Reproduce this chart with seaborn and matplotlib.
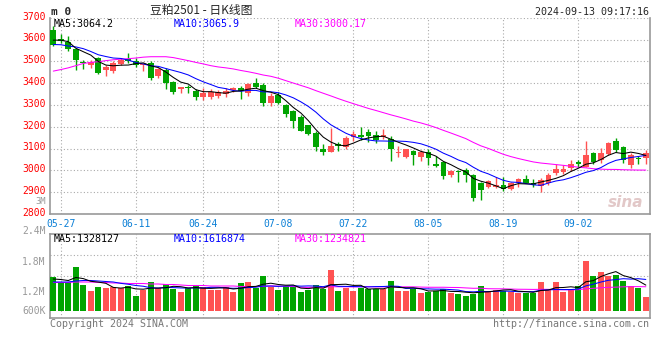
import numpy as np
import pandas as pd
import matplotlib
matplotlib.use("Agg")
import matplotlib.pyplot as plt
import matplotlib.transforms as mtransforms
import seaborn as sns

# trading days shown: 2024-05-24 .. 2024-09-13 (06-10 is the Dragon Boat holiday)
days = pd.bdate_range("2024-05-24", "2024-09-13")
days = days[days != pd.Timestamp("2024-06-10")]

opens = [3644, 3602, 3588, 3555, 3498, 3482, 3517, 3460, 3455, 3489,
         3512, 3502, 3482, 3490, 3432, 3462, 3404, 3374, 3382, 3364,
         3335, 3338, 3342, 3350, 3368, 3377, 3355, 3399, 3392, 3308,
         3346, 3300, 3270, 3245, 3206, 3172, 3096, 3086, 3120, 3106,
         3152, 3163, 3177, 3162, 3151, 3144, 3078, 3063, 3090, 3063,
         3085, 3030, 3036, 2978, 2999, 3002, 2978, 2940, 2922, 2925,
         2932, 2913, 2940, 2960, 2941, 2928, 2940, 2986, 2992, 3010,
         3040, 3017, 3081, 3047, 3076, 3136, 3109, 3024, 3058, 3055]
highs = [3662, 3625, 3617, 3560, 3507, 3504, 3520, 3484, 3502, 3515,
         3537, 3517, 3492, 3502, 3470, 3470, 3408, 3384, 3392, 3372,
         3376, 3372, 3368, 3376, 3384, 3387, 3402, 3422, 3399, 3353,
         3360, 3305, 3275, 3254, 3210, 3180, 3120, 3192, 3128, 3158,
         3182, 3200, 3188, 3182, 3188, 3158, 3112, 3100, 3095, 3093,
         3096, 3066, 3040, 3000, 3003, 3009, 2985, 2945, 2955, 2968,
         2968, 2948, 2963, 2978, 2960, 2963, 2986, 3029, 3024, 3047,
         3047, 3136, 3086, 3104, 3132, 3150, 3112, 3078, 3066, 3093]
lows = [3572, 3585, 3548, 3462, 3464, 3470, 3440, 3432, 3447, 3484,
        3492, 3474, 3457, 3412, 3424, 3372, 3352, 3354, 3355, 3324,
        3323, 3326, 3330, 3338, 3361, 3328, 3341, 3378, 3294, 3295,
        3306, 3243, 3196, 3178, 3162, 3090, 3070, 3082, 3090, 3100,
        3136, 3139, 3132, 3124, 3142, 3044, 3063, 3055, 3025, 3043,
        3025, 3017, 2958, 2970, 2948, 2948, 2861, 2864, 2917, 2918,
        2906, 2910, 2922, 2940, 2922, 2902, 2932, 2978, 2983, 2998,
        3017, 3015, 3029, 3032, 3070, 3085, 3032, 3009, 3029, 3029]
closes = [3575, 3592, 3556, 3507, 3490, 3497, 3448, 3472, 3490, 3504,
          3500, 3482, 3488, 3422, 3464, 3399, 3357, 3380, 3378, 3335,
          3353, 3358, 3358, 3364, 3377, 3366, 3396, 3380, 3308, 3341,
          3310, 3258, 3224, 3182, 3166, 3106, 3082, 3112, 3112, 3150,
          3167, 3155, 3158, 3140, 3162, 3098, 3086, 3096, 3070, 3085,
          3055, 3020, 2975, 2995, 2994, 2979, 2872, 2910, 2951, 2932,
          2913, 2940, 2958, 2944, 2934, 2955, 2978, 3004, 3006, 3029,
          3030, 3070, 3036, 3081, 3127, 3094, 3045, 3070, 3051, 3081]
# volume in millions of lots
volumes_m = [1.48, 1.36, 1.38, 1.69, 1.33, 1.21, 1.28, 1.26, 1.28, 1.26,
             1.30, 1.11, 1.23, 1.39, 1.26, 1.34, 1.25, 1.19, 1.26, 1.30,
             1.28, 1.23, 1.23, 1.28, 1.18, 1.36, 1.38, 1.26, 1.50, 1.28,
             1.23, 1.31, 1.28, 1.19, 1.23, 1.33, 1.25, 1.63, 1.21, 1.26,
             1.21, 1.26, 1.25, 1.25, 1.25, 1.41, 1.20, 1.21, 1.25, 1.16,
             1.18, 1.21, 1.25, 1.16, 1.15, 1.11, 1.15, 1.31, 1.20, 1.23,
             1.21, 1.18, 1.16, 1.16, 1.16, 1.39, 1.23, 1.39, 1.18, 1.23,
             1.31, 1.81, 1.51, 1.58, 1.51, 1.53, 1.41, 1.31, 1.26, 1.08]

# moving averages at the left edge need days before the window ->
ma5_head = [3597, 3597, 3590, 3560]
ma10_head = [3577, 3576, 3570, 3566, 3558, 3545, 3530, 3522, 3515]
ma30_head = [3455, 3462, 3470, 3480, 3490, 3495, 3498, 3503, 3507, 3510,
             3512, 3515, 3519, 3521, 3521, 3521, 3517, 3510, 3503, 3495,
             3488, 3480, 3474, 3470, 3465, 3458, 3452, 3445, 3437]
vol_ma5_head = [1.44, 1.43, 1.41, 1.47]
vol_ma10_head = [1.38, 1.38, 1.38, 1.40, 1.41, 1.41, 1.40, 1.39, 1.38]
vol_ma30_head = [1.37, 1.37, 1.37, 1.38, 1.38, 1.38, 1.37, 1.37, 1.36, 1.36,
                 1.35, 1.35, 1.35, 1.34, 1.34, 1.33, 1.33, 1.32, 1.31, 1.31,
                 1.31, 1.30, 1.30, 1.30, 1.30, 1.29, 1.29, 1.29, 1.29]

tick_labels = ["05-27", "06-11", "06-24", "07-08", "07-22", "08-05", "08-19", "09-02"]
price_ticks = [2800, 2900, 3000, 3100, 3200, 3300, 3400, 3500, 3600, 3700]

W, H = 660, 360
UP, DOWN = "#ff5252", "#00a400"
GRID = "#aaaaaa"
MONO = "DejaVu Sans Mono"


def with_head(values, n, head):
    ma = pd.Series(values, dtype=float).rolling(n).mean()
    ma.iloc[:len(head)] = head
    return ma


df = pd.DataFrame({"day": days, "open": opens, "high": highs, "low": lows,
                   "close": closes, "vol": np.array(volumes_m) * 1e6})
df["idx"] = np.arange(len(df))
df["ma5"] = with_head(closes, 5, ma5_head)
df["ma10"] = with_head(closes, 10, ma10_head)
df["ma30"] = with_head(closes, 30, ma30_head)
df["vma5"] = with_head(volumes_m, 5, vol_ma5_head) * 1e6
df["vma10"] = with_head(volumes_m, 10, vol_ma10_head) * 1e6
df["vma30"] = with_head(volumes_m, 30, vol_ma30_head) * 1e6
colors = np.where(df["close"] >= df["open"], UP, DOWN)

sns.set_theme(style="white")
plt.rcParams["font.family"] = [MONO, "DejaVu Sans"]

fig = plt.figure(figsize=(W / 100, H / 100), dpi=100)
fig.patch.set_facecolor("white")


def px(x, y):
    return x / W, 1 - y / H


ax = fig.add_axes([50 / W, 1 - 213.9 / H, 599.5 / W, (213.9 - 17.7) / H])
ax2 = fig.add_axes([50 / W, 1 - 318 / H, 599.5 / W, 84 / H], sharex=ax)

# ---- candles ----
body_lo = df[["open", "close"]].min(axis=1)
body_h = (df["close"] - df["open"]).abs().clip(lower=4)
ax.vlines(df["idx"], df["low"], df["high"], colors=colors, lw=1.0, zorder=3)
ax.bar(df["idx"], body_h, bottom=body_lo, width=0.75, color=colors, lw=0, zorder=4)

for col, c in [("ma30", "#ff00ff"), ("ma10", "#0000ff"), ("ma5", "black")]:
    sns.lineplot(data=df, x="idx", y=col, color=c, lw=0.75, ax=ax, zorder=5)

tick_pos = [list(df["day"].dt.strftime("%m-%d")).index(t) for t in tick_labels]
ax.set_xlim(-0.44, 79.49)
ax.set_ylim(2800, 3700)
ax.set_xticks(tick_pos)
ax.set_xticklabels(tick_labels)
ax.set_yticks(price_ticks)
ax.set_xlabel("")
ax.set_ylabel("")
ax.tick_params(axis="both", length=0, labelsize=7)
ax.tick_params(axis="y", colors="#ff0000", pad=3)
ax.tick_params(axis="x", colors="#0a7fd6", pad=3.5)
ax.grid(True, ls=(0, (1, 2)), color=GRID, lw=0.8)
for s in ["left", "bottom", "right"]:
    ax.spines[s].set_color("#999999")
    ax.spines[s].set_linewidth(1.2)
ax.spines["top"].set_visible(False)

# price labels sit a little above their grid lines
lift = mtransforms.ScaledTranslation(0, 2.2 / 100, fig.dpi_scale_trans)
for lab in ax.get_yticklabels():
    lab.set_transform(lab.get_transform() + lift)

trans = mtransforms.blended_transform_factory(ax.transAxes, ax.transData)
ax.text(-0.007, 2856, "3M", transform=trans, ha="right", va="center",
        fontsize=6.3, color="#999999")
ax.text(0.99, 0.06, "sina", transform=ax.transAxes, ha="right", va="center",
        fontsize=11, fontstyle="italic", fontweight="bold", color="#e2c8c8",
        family="DejaVu Sans")

# ---- volume ----
VOL_FLOOR = 800000
ax2.bar(df["idx"], df["vol"] - VOL_FLOOR, bottom=VOL_FLOOR, width=0.8,
        color=colors, lw=0, zorder=3)
for col, c in [("vma30", "#ff00ff"), ("vma10", "#0000ff"), ("vma5", "black")]:
    sns.lineplot(data=df, x="idx", y=col, color=c, lw=0.75, ax=ax2, zorder=5)
ax2.set_ylim(660000, 2340000)
ax2.set_yticks([1.2e6, 1.8e6])
ax2.set_yticklabels(["1.2M", "1.8M"])
ax2.set_xlabel("")
ax2.set_ylabel("")
ax2.tick_params(axis="both", length=0, labelsize=7)
ax2.tick_params(axis="y", colors="#999999", pad=3)
ax2.tick_params(axis="x", labelbottom=False)
ax2.grid(True, axis="x", ls=(0, (1, 2)), color=GRID, lw=0.8)
for yf in [0.5, 0.75]:
    ax2.plot([0, 1], [yf, yf], transform=ax2.transAxes, ls=(0, (1, 2)),
             color=GRID, lw=0.8, zorder=1)
for s in ax2.spines.values():
    s.set_color("#999999")
    s.set_linewidth(1.2)
trans2 = mtransforms.blended_transform_factory(ax2.transAxes, ax2.transData)
ax2.text(-0.007, 2.4e6, "2.4M", transform=trans2, ha="right", va="center",
         fontsize=7, color="#999999", clip_on=False)
ax2.text(-0.007, VOL_FLOOR, "600K", transform=trans2, ha="right", va="center",
         fontsize=7, color="#999999", clip_on=False)

# ---- header / legend texts ----
fig.text(*px(51, 12), "m 0", ha="left", va="center", fontsize=8, fontweight="bold")
fig.text(*px(201, 10.5), "豆粕2501 - 日K线图", ha="center", va="center", fontsize=8.5,
         family=["Noto Sans CJK SC", "DejaVu Sans"])
fig.text(*px(649, 12), "2024-09-13 09:17:16", ha="right", va="center", fontsize=7.2)

fig.text(*px(54, 24), "MA5:3064.2", ha="left", va="center", fontsize=7.2, color="black")
fig.text(*px(174, 24), "MA10:3065.9", ha="left", va="center", fontsize=7.2, color="#0000ff")
fig.text(*px(295, 24), "MA30:3000.17", ha="left", va="center", fontsize=7.2, color="#ff00ff")

fig.text(*px(54, 238.5), "MA5:1328127", ha="left", va="center", fontsize=7.2, color="black")
fig.text(*px(174, 238.5), "MA10:1616874", ha="left", va="center", fontsize=7.2, color="#0000ff")
fig.text(*px(295, 238.5), "MA30:1234821", ha="left", va="center", fontsize=7.2, color="#ff00ff")

fig.text(*px(50, 324), "Copyright 2024 SINA.COM", ha="left", va="center",
         fontsize=7.2, color="#777777")
fig.text(*px(649, 324), "http://finance.sina.com.cn", ha="right", va="center",
         fontsize=7.2, color="#777777")

fig.savefig("out.png", dpi=100, facecolor="white")
